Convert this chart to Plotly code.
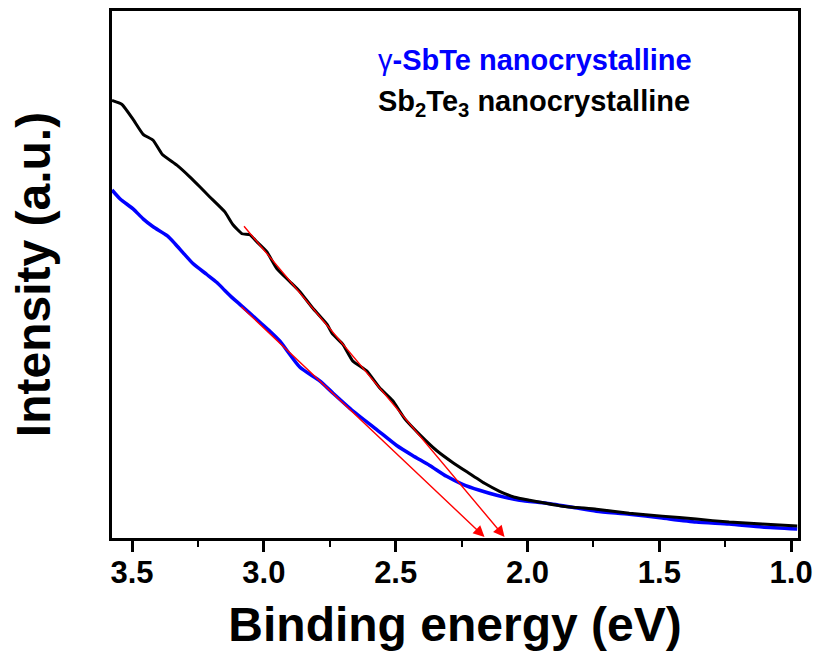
import plotly.graph_objects as go

# Binding energy (eV) and intensity (a.u.)
sb2te3_energy = [3.576, 3.538, 3.496, 3.458, 3.420, 3.386, 3.330, 3.280, 3.242, 3.205,
                 3.148, 3.117, 3.083, 3.053, 3.027, 2.989, 2.951, 2.902, 2.864, 2.814,
                 2.761, 2.739, 2.701, 2.663, 2.610, 2.561, 2.511, 2.466, 2.409, 2.345,
                 2.284, 2.227, 2.163, 2.106, 2.049, 1.992, 1.867, 1.739, 1.614, 1.489,
                 1.360, 1.235, 1.110, 0.977]
sb2te3_intensity = [440, 436, 421, 406, 400, 386, 375, 363, 353, 343,
                    328, 315, 306, 305, 298, 288, 271, 258, 248, 231,
                    215, 205, 195, 178, 168, 151, 138, 120, 104, 88,
                    76, 66, 55, 47, 41, 38, 32, 29, 25, 22,
                    19, 16, 14, 12]

sbte_energy = [3.576, 3.545, 3.496, 3.458, 3.420, 3.367, 3.337, 3.307, 3.269, 3.216,
               3.178, 3.148, 3.117, 3.091, 3.015, 2.977, 2.939, 2.864, 2.788, 2.739,
               2.663, 2.572, 2.496, 2.436, 2.371, 2.307, 2.246, 2.182, 2.117, 2.030,
               1.928, 1.830, 1.739, 1.614, 1.489, 1.360, 1.235, 1.110, 0.977]
sbte_intensity = [350, 341, 331, 321, 313, 304, 296, 287, 276, 265,
                  257, 249, 241, 235, 217, 208, 198, 172, 158, 146,
                  128, 109, 93, 83, 73, 62, 54, 48, 43, 38,
                  35, 31, 27, 24, 20, 16, 14, 11, 9]

# Linear-extrapolation arrows: (tail energy, tail intensity, tip energy, tip intensity)
fit_sb2te3 = [3.080, 315, 2.087, 1]
fit_sbte = [3.091, 234, 2.163, 1]

x_ticks = [3.5, 3.0, 2.5, 2.0, 1.5, 1.0]
x_tick_text = ["3.5", "3.0", "2.5", "2.0", "1.5", "1.0"]

FONT = "Arial, 'Liberation Sans', sans-serif"

fig = go.Figure()
fig.add_trace(go.Scatter(x=sbte_energy, y=sbte_intensity, mode="lines",
                         line=dict(color="#0000FF", width=3.5, shape="spline", smoothing=0.6),
                         showlegend=False))
fig.add_trace(go.Scatter(x=sb2te3_energy, y=sb2te3_intensity, mode="lines",
                         line=dict(color="#000000", width=3, shape="spline", smoothing=0.4),
                         showlegend=False))

for f in (fit_sb2te3, fit_sbte):
    fig.add_annotation(x=f[2], y=f[3], ax=f[0], ay=f[1], xref="x", yref="y",
                       axref="x", ayref="y", showarrow=True, arrowhead=2,
                       arrowsize=1.6, arrowwidth=1.4, arrowcolor="#FF0000",
                       standoff=0, text="")

fig.add_annotation(x=(377 - 112) / 688, y=1 - (57 - 8) / 530, xref="paper", yref="paper",
                   xanchor="left", yanchor="middle", showarrow=False,
                   text="γ<b>-SbTe nanocrystalline</b>",
                   font=dict(family=FONT, size=29, color="#0000FF"))
fig.add_annotation(x=(377 - 112) / 688, y=1 - (101 - 8) / 530, xref="paper", yref="paper",
                   xanchor="left", yanchor="middle", showarrow=False,
                   text="<b>Sb<sub>2</sub>Te<sub>3</sub> nanocrystalline</b>",
                   font=dict(family=FONT, size=29, color="#000000"))

fig.update_layout(
    width=821, height=658,
    margin=dict(l=112, r=21, t=8, b=120),
    paper_bgcolor="white", plot_bgcolor="white",
    font=dict(family=FONT, color="black"),
    xaxis=dict(range=[3.576, 0.974], tickvals=x_ticks, ticktext=x_tick_text,
               ticks="outside", ticklen=11, tickwidth=2.5, tickcolor="black",
               ticklabelstandoff=-6,
               minor=dict(dtick=0.25, tick0=1.0, ticks="outside", ticklen=6,
                          tickwidth=2, tickcolor="black"),
               showline=True, linewidth=2.5, linecolor="black", mirror=True,
               showgrid=False, zeroline=False,
               tickfont=dict(family=FONT, size=31, color="black", weight="bold"),
               title=dict(text="<b>Binding energy (eV)</b>",
                          font=dict(family=FONT, size=48, color="black"), standoff=19)),
    yaxis=dict(range=[0, 530], showticklabels=False, ticks="",
               showline=True, linewidth=2.5, linecolor="black", mirror=True,
               showgrid=False, zeroline=False,
               title=dict(text="<b>Intensity (a.u.)</b>",
                          font=dict(family=FONT, size=48, color="black"), standoff=44)),
)

fig.write_html("out.html")
